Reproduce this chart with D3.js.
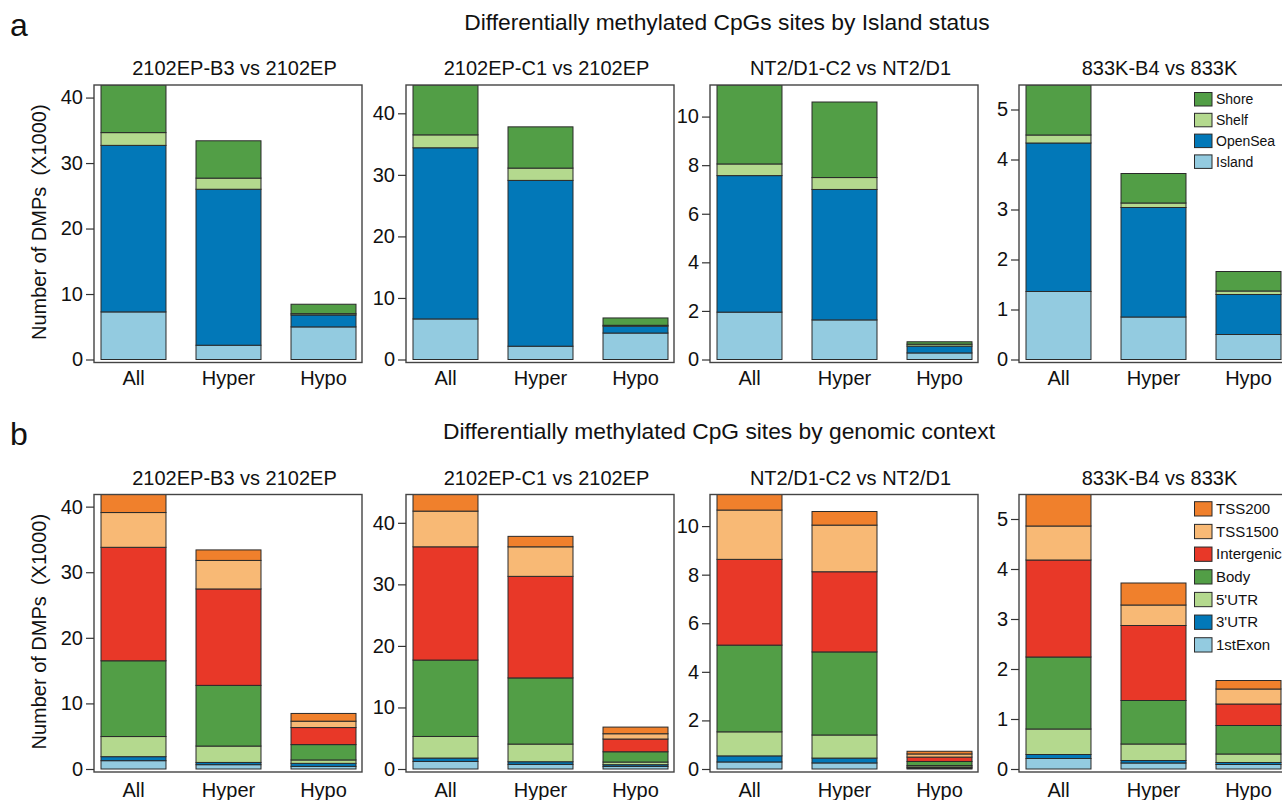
<!DOCTYPE html>
<html>
<head>
<meta charset="utf-8">
<script src="https://cdn.jsdelivr.net/npm/d3@7"></script>
<style>
  body { margin: 0; background: #fff; overflow: hidden; }
  svg { font-family: "Liberation Sans", Arial, sans-serif; display: block; }
  .tick text { font-size: 20px; fill: #111; }
  .tick line { stroke: #333; stroke-width: 1.2; }
</style>
</head>
<body>
<div id="chart"></div>
<script>
// comparisons shown in each row, left to right
const comparisons = ['2102EP-B3 vs 2102EP', '2102EP-C1 vs 2102EP', 'NT2/D1-C2 vs NT2/D1', '833K-B4 vs 833K'];
const groups = ['All', 'Hyper', 'Hypo'];

// row a: island status, stacked bottom -> top (x1000 DMPs)
const islandKeys = ['Island', 'OpenSea', 'Shelf', 'Shore'];
const islandValues = [
  [[7.27, 25.43, 1.95, 7.27], [2.18, 23.82, 1.70, 5.70], [4.98, 1.82, 0.20, 1.44]],
  [[6.59, 27.81, 2.10, 8.10], [2.16, 26.94, 2.00, 6.70], [4.30, 1.12, 0.14, 1.19]],
  [[1.95, 5.62, 0.48, 3.25], [1.63, 5.37, 0.49, 3.11], [0.27, 0.28, 0.08, 0.10]],
  [[1.36, 2.97, 0.16, 1.00], [0.85, 2.19, 0.09, 0.59], [0.50, 0.80, 0.07, 0.39]]
];

// row b: genomic context, stacked bottom -> top
const contextKeys = ['1stExon', "3'UTR", "5'UTR", 'Body', 'Intergenic', 'TSS1500', 'TSS200'];
const contextValues = [
  [[1.27, 0.61, 3.07, 11.55, 17.30, 5.30, 2.75], [0.66, 0.34, 2.50, 9.25, 14.70, 4.35, 1.60], [0.40, 0.46, 0.52, 2.34, 2.60, 0.97, 1.18]],
  [[1.23, 0.55, 3.51, 12.41, 18.40, 5.80, 2.70], [0.75, 0.43, 2.87, 10.75, 16.50, 4.80, 1.70], [0.42, 0.28, 0.43, 1.67, 2.07, 0.86, 1.08]],
  [[0.29, 0.25, 0.99, 3.57, 3.53, 2.03, 0.64], [0.25, 0.20, 0.95, 3.42, 3.30, 1.92, 0.56], [0.04, 0.04, 0.06, 0.17, 0.18, 0.13, 0.11]],
  [[0.21, 0.08, 0.51, 1.44, 1.94, 0.68, 0.63], [0.12, 0.05, 0.33, 0.87, 1.50, 0.41, 0.44], [0.09, 0.04, 0.17, 0.57, 0.43, 0.30, 0.17]]
];

// y tick labels per comparison
const yTicks = [
  [0, 10, 20, 30, 40],
  [0, 10, 20, 30, 40],
  [0, 2, 4, 6, 8, 10],
  [0, 1, 2, 3, 4, 5]
];

const islandColors = ['#93cbe0', '#0278b8', '#b4d98e', '#529e46'];
const contextColors = ['#93cbe0', '#0278b8', '#b4d98e', '#529e46', '#e83828', '#f8b975', '#f0802c'];

const width = 1282, height = 800;
const panelLefts = [94, 406, 710, 1019];
const panelWidth = 268;

const rows = [
  {
    tag: 'a', tagY: 36,
    title: 'Differentially methylated CpGs sites by Island status', titleX: 727, titleY: 30,
    subY: 74.5, top: 85, zero: 359.5, bottom: 362.5, xLabelY: 385,
    keys: islandKeys, values: islandValues, colors: islandColors,
    legendY: 92.5, legendStep: 20.8, legendH: 13.5, legendFont: 14
  },
  {
    tag: 'b', tagY: 445,
    title: 'Differentially methylated CpG sites by genomic context', titleX: 719, titleY: 438.5,
    subY: 484.5, top: 494.5, zero: 769, bottom: 772, xLabelY: 797,
    keys: contextKeys, values: contextValues, colors: contextColors,
    legendY: 501.7, legendStep: 22.67, legendH: 14.3, legendFont: 15
  }
];

const svg = d3.select('#chart')
  .append('svg')
  .attr('width', width)
  .attr('height', height);

rows.forEach((row, r) => {
  svg.append('text')
    .attr('x', 10)
    .attr('y', row.tagY)
    .attr('font-size', 32)
    .attr('fill', '#111')
    .text(row.tag);

  svg.append('text')
    .attr('x', row.titleX)
    .attr('y', row.titleY)
    .attr('text-anchor', 'middle')
    .attr('font-size', 22.8)
    .attr('fill', '#111')
    .text(row.title);

  // y axis title only on the first panel
  svg.append('text')
    .attr('transform', `translate(46, ${(row.top + row.zero) / 2}) rotate(-90)`)
    .attr('text-anchor', 'middle')
    .attr('font-size', 20)
    .attr('fill', '#111')
    .style('white-space', 'pre')
    .text('Number of DMPs  (X1000)');

  const color = d3.scaleOrdinal().domain(row.keys).range(row.colors);

  comparisons.forEach((name, p) => {
    const left = panelLefts[p];
    const right = left + panelWidth;

    const data = groups.map((grp, i) => {
      const d = { group: grp };
      row.keys.forEach((k, j) => { d[k] = row.values[p][i][j]; });
      return d;
    });
    const maxVal = d3.sum(row.values[p][0]);

    const x = d3.scaleBand()
      .domain(groups)
      .range([left + 7, right - 6])
      .paddingInner(0.316)
      .paddingOuter(0);

    const y = d3.scaleLinear()
      .domain([0, maxVal])
      .range([row.zero, row.top]);

    const clipId = `clip-${r}-${p}`;
    svg.append('clipPath')
      .attr('id', clipId)
      .append('rect')
      .attr('x', left)
      .attr('y', row.top)
      .attr('width', panelWidth)
      .attr('height', row.bottom - row.top);

    const series = d3.stack().keys(row.keys)(data);

    svg.append('g')
      .attr('clip-path', `url(#${clipId})`)
      .selectAll('g')
      .data(series)
      .join('g')
      .attr('fill', s => color(s.key))
      .selectAll('rect')
      .data(s => s)
      .join('rect')
      .attr('x', d => x(d.data.group))
      .attr('y', d => y(d[1]))
      .attr('width', x.bandwidth())
      .attr('height', d => y(d[0]) - y(d[1]))
      .attr('stroke', '#2a2a2a')
      .attr('stroke-width', 1);

    // plot box
    svg.append('rect')
      .attr('x', left)
      .attr('y', row.top)
      .attr('width', panelWidth)
      .attr('height', row.bottom - row.top)
      .attr('fill', 'none')
      .attr('stroke', '#444')
      .attr('stroke-width', 1.4);

    const yAxis = svg.append('g')
      .attr('transform', `translate(${left}, 0)`)
      .call(d3.axisLeft(y).tickValues(yTicks[p]).tickSize(8).tickPadding(3).tickFormat(d3.format('d')));
    yAxis.select('.domain').remove();

    svg.append('g')
      .selectAll('text')
      .data(groups)
      .join('text')
      .attr('x', d => x(d) + x.bandwidth() / 2)
      .attr('y', row.xLabelY)
      .attr('text-anchor', 'middle')
      .attr('font-size', 20)
      .attr('fill', '#111')
      .text(d => d);

    svg.append('text')
      .attr('x', (left + right) / 2 + 6.5)
      .attr('y', row.subY)
      .attr('text-anchor', 'middle')
      .attr('font-size', 20)
      .attr('fill', '#111')
      .text(name);
  });

  // legend inside the last panel, top entry = top of the stack
  const legendKeys = row.keys.slice().reverse();
  const legend = svg.append('g')
    .selectAll('g')
    .data(legendKeys)
    .join('g')
    .attr('transform', (d, i) => `translate(1194.5, ${row.legendY + i * row.legendStep})`);

  legend.append('rect')
    .attr('width', 17.5)
    .attr('height', row.legendH)
    .attr('fill', d => color(d))
    .attr('stroke', '#2a2a2a')
    .attr('stroke-width', 1);

  legend.append('text')
    .attr('x', 21.5)
    .attr('y', row.legendH / 2)
    .attr('dy', '0.35em')
    .attr('font-size', row.legendFont)
    .attr('fill', '#111')
    .text(d => d);
});
</script>
</body>
</html>
